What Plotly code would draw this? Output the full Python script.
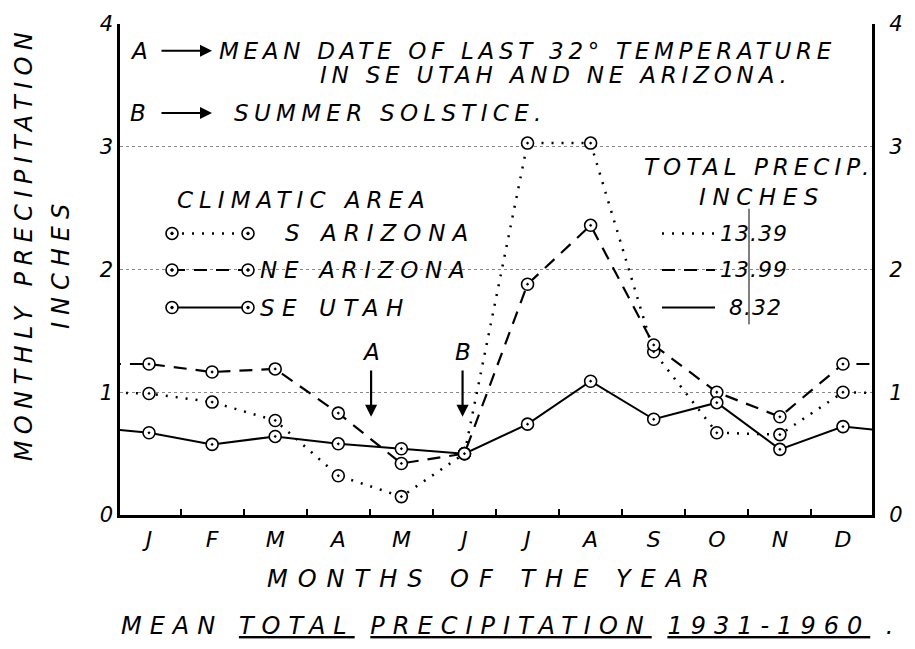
import plotly.graph_objects as go

# ---------------- data ----------------
months = ["J", "F", "M", "A", "M", "J", "J", "A", "S", "O", "N", "D"]
s_arizona = [0.99, 0.92, 0.77, 0.32, 0.15, 0.50, 3.03, 3.03, 1.33, 0.67, 0.655, 1.00]
ne_arizona = [1.23, 1.165, 1.19, 0.83, 0.42, 0.50, 1.88, 2.36, 1.385, 1.00, 0.80, 1.23]
se_utah = [0.67, 0.575, 0.64, 0.58, 0.54, 0.50, 0.74, 1.09, 0.78, 0.915, 0.535, 0.72]
series_names = ["S ARIZONA", "NE ARIZONA", "SE UTAH"]
series_totals = ["13.39", "13.99", "8.32"]
y_ticks = [0, 1, 2, 3, 4]
y_ticktext = ["0", "1", "2", "3", "4"]
frost_x = 3.52      # A: mean date of last 32° temperature
solstice_x = 4.97   # B: summer solstice

# ---------------- geometry ----------------
W, H = 915, 649
L, R, T, B = 120, 872, 18, 515
FONT = "DejaVu Sans"


def px(xp):
    return (xp - L) / (R - L)


def py(yp):
    return (B - yp) / (B - T)


styles = [
    dict(dash="2px,8px", width=2.5),
    dict(dash="13px,9px", width=2.2),
    dict(dash="solid", width=2),
]

fig = go.Figure()
idx = list(range(len(months)))
for vals, st, name in zip([s_arizona, ne_arizona, se_utah], styles, series_names):
    xs = [-1] + idx + [len(months)]
    ys = [vals[-1]] + vals + [vals[0]]
    fig.add_trace(go.Scatter(
        x=xs, y=ys, mode="lines+markers", name=name,
        line=dict(color="black", width=st["width"], dash=st["dash"]),
        marker=dict(symbol="circle-dot", size=12, color="white",
                    line=dict(color="black", width=1.6)),
        cliponaxis=True, hoverinfo="skip",
    ))

# invisible trace for right axis
fig.add_trace(go.Scatter(x=[0], y=[0], yaxis="y2", mode="markers",
                         marker=dict(opacity=0), hoverinfo="skip"))

ann = []
shapes = []


def txt(s, xp, yp, size=23, anchor="left", ls=None, angle=0):
    t = f'<span style="letter-spacing:{ls}px">{s}</span>' if ls else s
    ann.append(dict(text=t, x=px(xp), y=py(yp), xref="paper", yref="paper",
                    xanchor=anchor, yanchor="middle", showarrow=False,
                    textangle=angle,
                    font=dict(size=size, family=FONT, style="italic", color="black")))


def harrow(x_head, yp, length=52):
    ann.append(dict(text="", x=px(x_head), y=py(yp), xref="paper", yref="paper",
                    ax=-length, ay=0, showarrow=True, arrowhead=2, arrowsize=1.2,
                    arrowwidth=2, arrowcolor="black"))


def circ(xp, yp, r=6):
    shapes.append(dict(type="circle", xref="paper", yref="paper",
                       xsizemode="pixel", ysizemode="pixel",
                       xanchor=px(xp), yanchor=py(yp), x0=-r, x1=r, y0=-r, y1=r,
                       line=dict(color="black", width=1.6), fillcolor="white"))
    shapes.append(dict(type="circle", xref="paper", yref="paper",
                       xsizemode="pixel", ysizemode="pixel",
                       xanchor=px(xp), yanchor=py(yp), x0=-1.3, x1=1.3, y0=-1.3, y1=1.3,
                       line=dict(color="black", width=1), fillcolor="black"))


def hline(x0, x1, yp, st):
    shapes.append(dict(type="line", xref="paper", yref="paper",
                       x0=px(x0), x1=px(x1), y0=py(yp), y1=py(yp),
                       line=dict(color="black", width=st["width"], dash=st["dash"])))


# top notes
txt("A", 128, 45)
harrow(212, 45)
txt("MEAN DATE OF LAST 32° TEMPERATURE", 217, 45, ls=4.7)
txt("IN SE UTAH AND NE ARIZONA.", 318, 70, ls=4.8)
txt("B", 128, 108)
harrow(212, 108)
txt("SUMMER SOLSTICE.", 232, 108, ls=5.3)

# legend (climatic area)
txt("CLIMATIC AREA", 175, 196, ls=6)
rows_y = [230, 267, 305]
text_x = [283, 258, 258]
text_ls = [7, 6.7, 7.5]
for name, st, ry, tx, tls in zip(series_names, styles, rows_y, text_x, text_ls):
    hline(172, 248, ry, st)
    circ(172, ry)
    circ(248, ry)
    txt(name, tx, ry, ls=tls)

# totals
txt("TOTAL PRECIP.", 642, 163, ls=5)
txt("INCHES", 697, 193, ls=6.6)
tot_x = [718, 718, 727]
for tot, st, ry, tx in zip(series_totals, styles, rows_y, tot_x):
    hline(662, 715, ry, st)
    txt(tot, tx, ry, size=22, ls=1)
shapes.append(dict(type="line", xref="paper", yref="paper", x0=px(749), x1=px(749),
                   y0=py(205), y1=py(322), line=dict(color="black", width=1)))

# event arrows on chart
for lab, xv in (("A", frost_x), ("B", solstice_x)):
    ann.append(dict(text="", x=xv, y=0.80, xref="x", yref="y", axref="x", ayref="y",
                    ax=xv, ay=1.19, showarrow=True, arrowhead=2, arrowsize=1.1,
                    arrowwidth=2.2, arrowcolor="black"))
    ann.append(dict(text=lab, x=xv, y=1.33, xref="x", yref="y", showarrow=False,
                    xanchor="center", yanchor="middle",
                    font=dict(size=23, family=FONT, style="italic", color="black")))

# axis titles
txt("MONTHLY PRECIPITATION", 24, 241, size=24, anchor="center", ls=6.4, angle=-90)
txt("INCHES", 61, 260, size=24, anchor="center", ls=7, angle=-90)
txt("MONTHS OF THE YEAR", 493, 580, size=24, anchor="center", ls=10)
txt("MEAN <u>TOTAL</u> <u>PRECIPITATION</u> <u>1931-1960</u> .", 511, 627,
    size=24, anchor="center", ls=8)

fig.update_layout(
    width=W, height=H,
    margin=dict(l=L, r=W - R, t=T, b=H - B),
    paper_bgcolor="white", plot_bgcolor="white",
    showlegend=False,
    font=dict(family=FONT, style="italic", color="black", size=21),
    xaxis=dict(range=[-0.46, 11.46], tickvals=idx, ticktext=months, ticks="",
               showgrid=False, zeroline=False, showline=True, linecolor="black",
               linewidth=2.5, tickfont=dict(size=22), ticklabelstandoff=3,
               minor=dict(tickvals=[i + 0.5 for i in range(11)], ticks="inside",
                          ticklen=6, tickwidth=2, tickcolor="black")),
    yaxis=dict(range=[0, 4], tickvals=y_ticks, ticktext=y_ticktext, ticks="",
               showgrid=True, gridcolor="#888", griddash="dot", gridwidth=1,
               zeroline=False, showline=True, linecolor="black", linewidth=2.5,
               mirror=True, tickfont=dict(size=21)),
    yaxis2=dict(range=[0, 4], tickvals=y_ticks, ticktext=y_ticktext,
                ticks="outside", ticklen=12, tickcolor="rgba(0,0,0,0)",
                overlaying="y", side="right", showgrid=False, zeroline=False,
                showline=False, tickfont=dict(size=21)),
    annotations=ann, shapes=shapes,
)

fig.write_html("out.html", config={"displayModeBar": False},
               post_script="document.body.style.margin='0';")
